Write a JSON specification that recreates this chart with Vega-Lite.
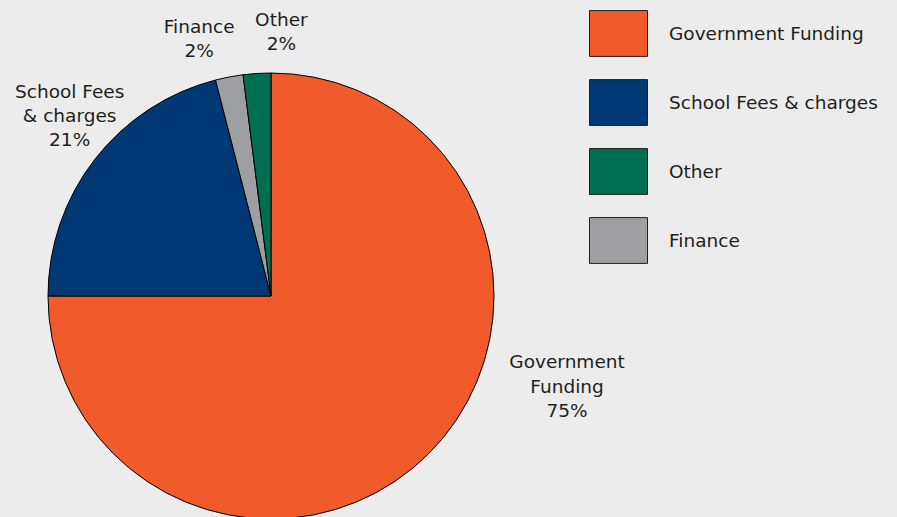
{
  "$schema": "https://vega.github.io/schema/vega-lite/v6.json",
  "width": 897,
  "height": 517,
  "padding": 0,
  "autosize": {"type": "none"},
  "background": "#ececec",
  "config": {"view": {"stroke": null}, "text": {"font": "DejaVu Sans", "fontSize": 18.5, "color": "#231f20"}},
  "data": {
    "values": [
      {"category": "Government Funding", "value": 75, "rank": 1, "label": ["Government", "Funding", "75%"]},
      {"category": "School Fees & charges", "value": 21, "rank": 2, "label": ["School Fees", "& charges", "21%"]},
      {"category": "Finance", "value": 2, "rank": 3, "label": ["Finance", "2%"]},
      {"category": "Other", "value": 2, "rank": 4, "label": ["Other", "2%"]}
    ]
  },
  "encoding": {
    "theta": {"field": "value", "type": "quantitative", "stack": true},
    "order": {"field": "rank", "type": "quantitative"}
  },
  "layer": [
    {
      "mark": {"type": "arc", "x": 271, "y": 296, "outerRadius": 223, "stroke": "#000000", "strokeWidth": 1},
      "encoding": {
        "color": {
          "field": "category",
          "type": "nominal",
          "scale": {
            "domain": ["Government Funding", "School Fees & charges", "Other", "Finance"],
            "range": ["#f15a2b", "#003875", "#006f51", "#9d9fa2"]
          },
          "legend": {
            "title": null,
            "orient": "none",
            "legendX": 589,
            "legendY": 4,
            "padding": 0,
            "symbolType": "M-1,-0.79H1V0.79H-1Z",
            "symbolSize": 3364,
            "symbolStrokeColor": "#231f20",
            "symbolStrokeWidth": 1,
            "symbolOpacity": 1,
            "rowPadding": 14,
            "labelOffset": 21,
            "labelFont": "DejaVu Sans",
            "labelFontSize": 18.5,
            "labelColor": "#231f20",
            "labelLimit": 400,
            "labelExpr": "datum.label === 'School Fees & charges' || datum.label === 'Other' ? '\u00a0' + datum.label : datum.label"
          }
        }
      }
    },
    {
      "mark": {"type": "text", "x": 271, "y": 296, "radius": 290, "dx": 91, "dy": -139, "baseline": "middle", "align": "center", "lineHeight": 24.5},
      "encoding": {"text": {"condition": {"test": "datum.category === 'Government Funding'", "field": "label"}, "value": ""}}
    },
    {
      "mark": {"type": "text", "x": 271, "y": 296, "radius": 270, "dx": 12, "dy": -39, "baseline": "middle", "align": "center", "lineHeight": 24},
      "encoding": {"text": {"condition": {"test": "datum.category === 'School Fees & charges'", "field": "label"}, "value": ""}}
    },
    {
      "mark": {"type": "text", "x": 271, "y": 296, "radius": 266, "dx": -22, "dy": -8, "baseline": "middle", "align": "center", "lineHeight": 24.5},
      "encoding": {"text": {"condition": {"test": "datum.category === 'Finance'", "field": "label"}, "value": ""}}
    },
    {
      "mark": {"type": "text", "x": 271, "y": 296, "radius": 265, "dx": 27, "dy": -12, "baseline": "middle", "align": "center", "lineHeight": 24},
      "encoding": {"text": {"condition": {"test": "datum.category === 'Other'", "field": "label"}, "value": ""}}
    }
  ]
}
